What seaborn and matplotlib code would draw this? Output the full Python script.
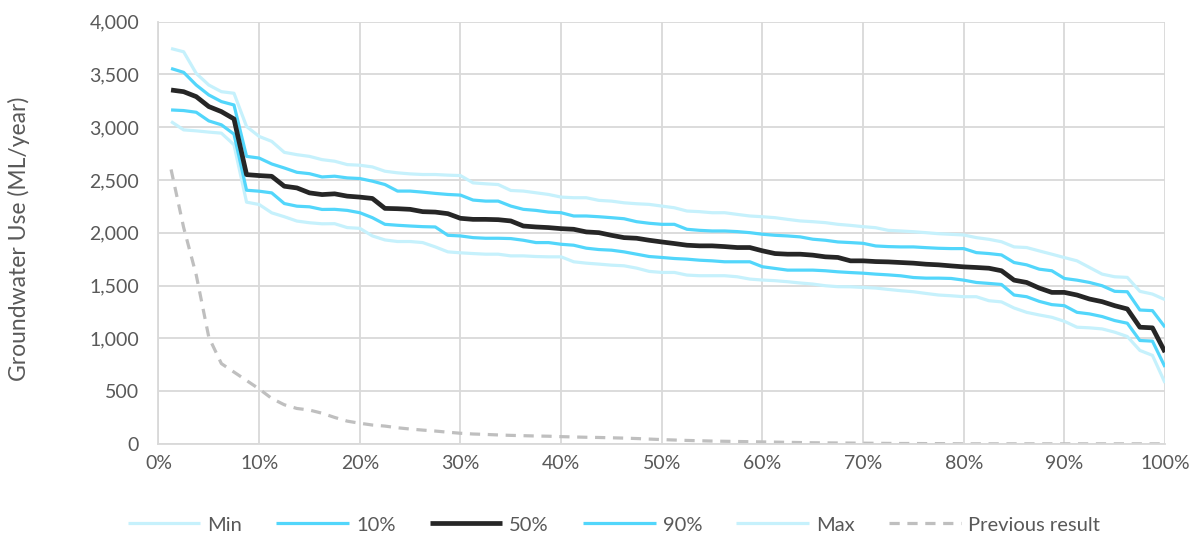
import numpy as np
import pandas as pd
import matplotlib
matplotlib.use("Agg")
import matplotlib.pyplot as plt
from matplotlib.ticker import FuncFormatter, MultipleLocator
import seaborn as sns

# Exceedance positions: 80 ranked results from 1.25% to 100%
n_points = 80
exceedance = [i / n_points for i in range(1, n_points + 1)]

max_use = [
    3746, 3715, 3510, 3400, 3337, 3322, 3007, 2913, 2866, 2762,
    2740, 2724, 2693, 2678, 2646, 2640, 2624, 2583, 2568, 2558,
    2552, 2552, 2546, 2542, 2473, 2464, 2457, 2401, 2395, 2379,
    2363, 2338, 2332, 2332, 2307, 2300, 2284, 2275, 2269, 2253,
    2237, 2206, 2200, 2190, 2190, 2174, 2159, 2152, 2143, 2127,
    2112, 2105, 2096, 2080, 2070, 2058, 2048, 2023, 2017, 2010,
    2001, 1991, 1985, 1979, 1954, 1938, 1915, 1866, 1860, 1828,
    1797, 1765, 1734, 1671, 1608, 1583, 1577, 1445, 1419, 1366,
]

p90_use = [
    3557, 3520, 3400, 3306, 3243, 3211, 2724, 2708, 2652, 2614,
    2573, 2560, 2529, 2536, 2520, 2514, 2489, 2457, 2395, 2395,
    2385, 2373, 2363, 2357, 2310, 2300, 2300, 2253, 2222, 2212,
    2196, 2190, 2159, 2159, 2152, 2143, 2133, 2105, 2090, 2080,
    2080, 2033, 2023, 2017, 2017, 2011, 2001, 1986, 1976, 1970,
    1961, 1939, 1929, 1913, 1907, 1900, 1875, 1869, 1866, 1866,
    1859, 1853, 1850, 1850, 1812, 1803, 1790, 1718, 1696, 1655,
    1640, 1567, 1551, 1529, 1498, 1445, 1441, 1268, 1262, 1105,
]

p50_use = [
    3353, 3337, 3290, 3196, 3148, 3079, 2551, 2542, 2535, 2441,
    2425, 2378, 2362, 2369, 2347, 2338, 2325, 2231, 2228, 2222,
    2200, 2196, 2181, 2137, 2127, 2127, 2124, 2112, 2064, 2055,
    2049, 2039, 2033, 2008, 2001, 1976, 1954, 1948, 1929, 1913,
    1898, 1882, 1876, 1876, 1869, 1860, 1860, 1829, 1803, 1797,
    1797, 1788, 1772, 1766, 1734, 1734, 1727, 1724, 1718, 1712,
    1702, 1696, 1686, 1677, 1671, 1664, 1640, 1551, 1529, 1476,
    1435, 1435, 1410, 1372, 1347, 1309, 1278, 1105, 1099, 869,
]

p10_use = [
    3164, 3158, 3142, 3060, 3023, 2935, 2403, 2394, 2378, 2277,
    2252, 2246, 2221, 2222, 2212, 2190, 2143, 2080, 2071, 2064,
    2058, 2055, 1976, 1970, 1954, 1948, 1948, 1945, 1929, 1907,
    1907, 1891, 1882, 1854, 1841, 1835, 1819, 1797, 1775, 1766,
    1756, 1750, 1740, 1734, 1725, 1725, 1725, 1678, 1662, 1646,
    1646, 1646, 1640, 1630, 1623, 1617, 1608, 1601, 1592, 1576,
    1570, 1570, 1567, 1551, 1529, 1520, 1510, 1410, 1394, 1350,
    1319, 1309, 1246, 1231, 1206, 1168, 1143, 979, 973, 728,
]

min_use = [
    3054, 2975, 2966, 2954, 2944, 2834, 2290, 2268, 2189, 2152,
    2111, 2095, 2085, 2086, 2049, 2042, 1970, 1932, 1917, 1917,
    1907, 1866, 1819, 1810, 1803, 1797, 1797, 1781, 1781, 1775,
    1772, 1772, 1725, 1712, 1703, 1693, 1687, 1665, 1634, 1624,
    1624, 1599, 1593, 1593, 1593, 1583, 1561, 1552, 1546, 1536,
    1524, 1514, 1498, 1489, 1488, 1482, 1476, 1463, 1451, 1441,
    1425, 1410, 1403, 1394, 1394, 1356, 1345, 1287, 1246, 1221,
    1199, 1161, 1105, 1099, 1089, 1058, 1017, 885, 838, 577,
]

previous_result = [
    2600, 2050, 1600, 1010, 760, 680, 600, 520, 430, 370,
    335, 320, 290, 250, 215, 195, 178, 168, 152, 140,
    130, 121, 110, 100, 93, 89, 84, 80, 77, 74,
    72, 68, 65, 62, 60, 57, 54, 50, 45, 40,
    36, 32, 29, 26, 24, 22, 20, 18, 16, 14,
    12, 10, 9, 8, 7, 6, 5, 4, 3, 3,
    2, 2, 1, 0, 0, 0, 0, 0, 0, 0,
    0, 0, 0, 0, 0, 0, 0, 0, 0, 0,
]

series_labels = ["Min", "10%", "50%", "90%", "Max", "Previous result"]
series_values = [min_use, p10_use, p50_use, p90_use, max_use, previous_result]

light_cyan = "#c6f1fc"
cyan = "#52d6fb"
dark = "#262626"
grey = "#bfbfbf"
styles = {
    "Min": dict(color=light_cyan, linewidth=2.3),
    "10%": dict(color=cyan, linewidth=2.3),
    "50%": dict(color=dark, linewidth=3.4),
    "90%": dict(color=cyan, linewidth=2.3),
    "Max": dict(color=light_cyan, linewidth=2.3),
    "Previous result": dict(color=grey, linewidth=2.3, linestyle=(0, (3.2, 2.4))),
}

sns.set_theme(style="white")
plt.rcParams["font.family"] = ["Lato", "DejaVu Sans"]
text_grey = "#595959"
grid_grey = "#d9d9d9"

fig = plt.figure(figsize=(11.97, 5.39), dpi=100)
ax = fig.add_axes([0.1324, 0.1766, 0.8409, 0.7831])

df = pd.DataFrame({"exceedance": exceedance})
for label, values in zip(series_labels, series_values):
    df[label] = values

# Draw the central series last so it sits on top of the bands
draw_order = ["Previous result", "Min", "Max", "10%", "90%", "50%"]
handles = {}
for label in draw_order:
    sns.lineplot(data=df, x="exceedance", y=label, ax=ax, label=label,
                 solid_capstyle="butt", dash_capstyle="butt", **styles[label])
    handles[label] = ax.get_lines()[-1]

ax.set_xlim(0, 1)
ax.set_ylim(0, 4000)
ax.xaxis.set_major_locator(MultipleLocator(0.1))
ax.yaxis.set_major_locator(MultipleLocator(500))
ax.xaxis.set_major_formatter(FuncFormatter(lambda v, p: f"{v * 100:.0f}%"))
ax.yaxis.set_major_formatter(FuncFormatter(lambda v, p: f"{v:,.0f}"))
ax.grid(True, color=grid_grey, linewidth=1.3)
ax.set_axisbelow(True)
for side in ["top", "right"]:
    ax.spines[side].set_visible(False)
for side in ["left", "bottom"]:
    ax.spines[side].set_color(grid_grey)
    ax.spines[side].set_linewidth(1.3)
ax.tick_params(axis="both", length=0, labelsize=14, colors=text_grey)
ax.tick_params(axis="y", pad=14)
ax.tick_params(axis="x", pad=8)
ax.set_xlabel("")
ax.set_ylabel("Groundwater Use (ML/year)", fontsize=16.5, color=text_grey)
ax.yaxis.set_label_coords(-0.128, 0.485)

ax.get_legend().remove()
fig.legend([handles[l] for l in series_labels], series_labels,
           loc="center", bbox_to_anchor=(0.513, 0.026), ncol=6, frameon=False,
           fontsize=14.5, labelcolor=text_grey, handlelength=3.6,
           handletextpad=0.35, columnspacing=1.7)

fig.savefig("out.png", dpi=100)
